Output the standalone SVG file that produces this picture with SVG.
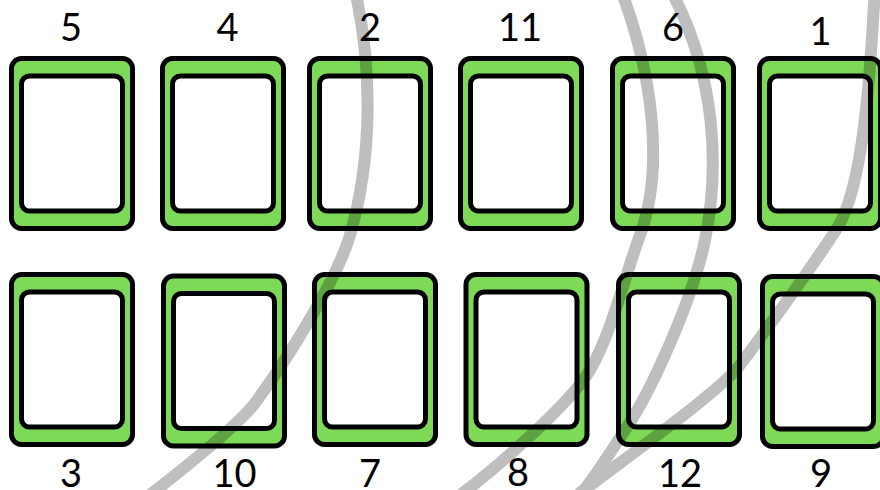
<svg xmlns="http://www.w3.org/2000/svg" width="880" height="490" viewBox="0 0 880 490">
<style>
.outer{fill:#7ED957;stroke:#000;stroke-width:5}
.inner{fill:#fff;stroke:#000;stroke-width:5}
.lbl{font-family:Lato,"Liberation Sans",sans-serif;font-size:38px;fill:#000;text-anchor:middle}
.conn path{fill:none;stroke:#000;stroke-width:12}
</style>
<defs>
<g id="card">
<rect class="outer" x="2.5" y="2.5" width="121" height="170" rx="10"/>
<rect class="inner" x="12.5" y="20" width="101" height="135" rx="8"/>
</g>
</defs>
<rect width="880" height="490" fill="#fff"/>
<g id="n5"><use href="#card" transform="translate(9,56)"/><text class="lbl" x="71" y="41">5</text></g>
<g id="n4"><use href="#card" transform="translate(160,56)"/><text class="lbl" x="227.5" y="41">4</text></g>
<g id="n2"><use href="#card" transform="translate(307,56)"/><text class="lbl" x="370" y="41">2</text></g>
<g id="n11"><use href="#card" transform="translate(458,56)"/><text class="lbl" x="520" y="41">11</text></g>
<g id="n6"><use href="#card" transform="translate(610,56)"/><text class="lbl" x="673" y="41">6</text></g>
<g id="n1"><use href="#card" transform="translate(757,56)"/><text class="lbl" x="820.5" y="45">1</text></g>
<g id="n3"><use href="#card" transform="translate(9,272)"/><text class="lbl" x="71" y="487">3</text></g>
<g id="n10"><use href="#card" transform="translate(161,273.5)"/><text class="lbl" x="234.5" y="487">10</text></g>
<g id="n7"><use href="#card" transform="translate(312,272)"/><text class="lbl" x="370" y="487">7</text></g>
<g id="n8"><use href="#card" transform="translate(463.5,272)"/><text class="lbl" x="518" y="485.5">8</text></g>
<g id="n12"><use href="#card" transform="translate(616,272)"/><text class="lbl" x="680" y="486.5">12</text></g>
<g id="n9"><use href="#card" transform="translate(760,274)"/><text class="lbl" x="821" y="486.5">9</text></g>
<g id="connectors" class="conn" opacity="0.25">
<path d="M355,-10 C373,70 372,160 350,235 C337,280 285,363 255,403 C237,427 167,482 143,500"/>
<path d="M619,-15 C654,75 664,170 640,235 C624.4,277.2 612.5,331 590,370 C570,404.6 491,472.5 455,499"/>
<path d="M668,-15 C718,75 719,171 705,240 C693,299 651.8,389.4 627,427 C616,443.7 591,483 578,498"/>
<path d="M875,-15 C870.5,75 863.5,188.5 836,230 C808.5,271.5 770,325 740,365 C719,393 614,466 575,497"/>
</g>
</svg>
